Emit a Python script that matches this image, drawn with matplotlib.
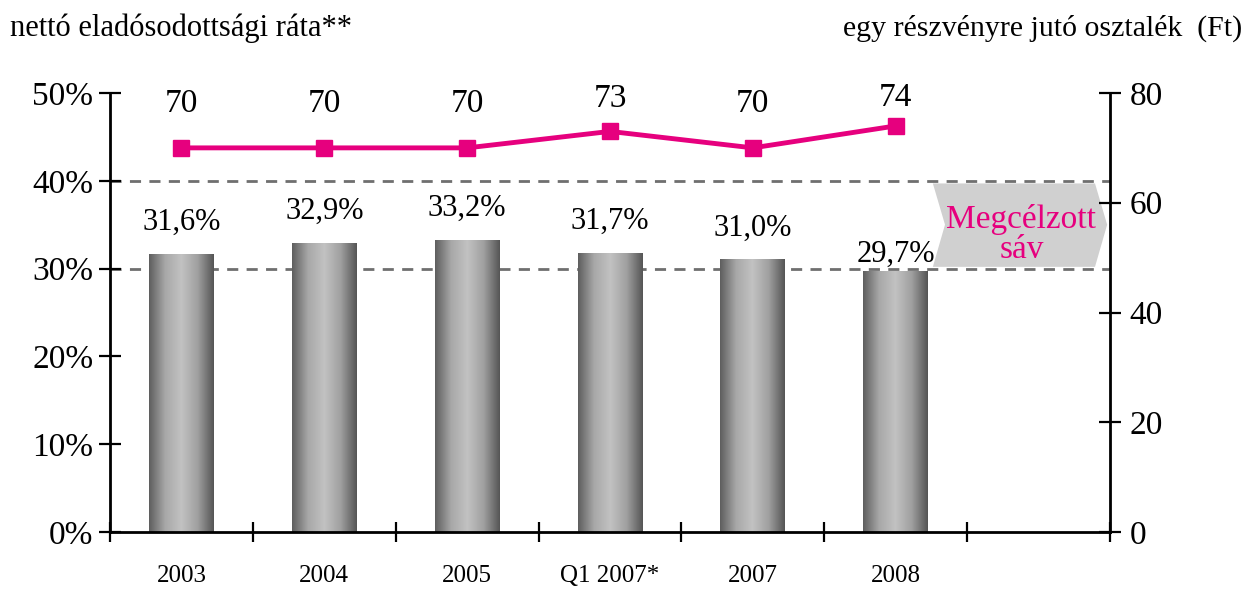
import matplotlib
matplotlib.use("Agg")
import matplotlib.pyplot as plt
import numpy as np
from matplotlib.colors import LinearSegmentedColormap
from matplotlib.patches import Polygon

categories = ["2003", "2004", "2005", "Q1 2007*", "2007", "2008"]
ratio = [31.6, 32.9, 33.2, 31.7, 31.0, 29.7]
ratio_labels = ["31,6%", "32,9%", "33,2%", "31,7%", "31,0%", "29,7%"]
dividend = [70, 70, 70, 73, 70, 74]
left_ticks = [0, 10, 20, 30, 40, 50]
right_ticks = [0, 20, 40, 60, 80]
band = [30, 40]

PINK = "#e6007e"
FONT = "Liberation Serif"
plt.rcParams["font.family"] = FONT

fig = plt.figure(figsize=(12.49, 5.89), dpi=100)
ax = fig.add_axes([110/1249, 1-532/589, 1000/1249, 439/589])
n_slots = len(categories) + 1
ax.set_xlim(-0.5, n_slots - 0.5)
ax.set_ylim(0, 50)

x = np.arange(len(categories))
bars = ax.bar(x, ratio, width=0.455, color="none", edgecolor="none", zorder=2)
cmap = LinearSegmentedColormap.from_list("g", ["#5e5e5e", "#a8a8a8", "#c2c2c2", "#a0a0a0", "#555555"])
grad = np.linspace(0, 1, 256).reshape(1, -1)
for b in bars:
    x0, w, h = b.get_x(), b.get_width(), b.get_height()
    ax.imshow(grad, cmap=cmap, aspect="auto", extent=[x0, x0 + w, 0, h], zorder=2)
ax.set_xlim(-0.5, n_slots - 0.5)
ax.set_ylim(0, 50)

for xi, v, lab in zip(x, ratio, ratio_labels):
    off = 12 if xi == len(categories) - 1 else 23
    ax.annotate(lab, (xi, v), xytext=(0, off), textcoords="offset points",
                ha="center", va="center", fontsize=22, zorder=5)

# target band dashed lines
for b_ in band:
    ax.axhline(b_, color="#6f6f6f", lw=2, ls=(0, (4, 3)), zorder=1)

# arrow / chevron
arr = Polygon([(5.26, 39.7), (6.395, 39.7), (6.48, 35.0), (6.395, 30.2),
               (5.26, 30.2), (5.345, 35.0)], closed=True,
              facecolor="#d0d0d0", edgecolor="none", zorder=1.5)
ax.add_patch(arr)
ax.text(5.88, 33.9, "Megcélzott\nsáv", color=PINK, fontsize=24, ha="center",
        va="center", linespacing=1.0, zorder=5)

# axes styling
ax.spines["top"].set_visible(False)
ax.spines["right"].set_visible(False)
ax.spines["left"].set_linewidth(2)
ax.spines["bottom"].set_linewidth(2)
ax.set_yticks(left_ticks)
ax.set_yticklabels([f"{t}%" for t in left_ticks])
ax.tick_params(axis="y", direction="inout", length=16, width=1.6, labelsize=24, pad=4)
ax.set_xticks(np.arange(n_slots + 1) - 0.5)
ax.set_xticklabels([])
ax.set_xticks(np.arange(len(categories)), minor=True)
ax.set_xticklabels(categories, minor=True)
ax.tick_params(axis="x", which="major", direction="inout", length=14, width=1.6)
ax.tick_params(axis="x", which="minor", length=0, labelsize=18, pad=24)

ax2 = ax.twinx()
ax2.set_ylim(0, 80)
ax2.set_xlim(-0.5, n_slots - 0.5)
for s in ["top", "left", "bottom"]:
    ax2.spines[s].set_visible(False)
ax2.spines["right"].set_linewidth(2)
ax2.set_yticks(right_ticks)
ax2.tick_params(axis="y", direction="inout", length=16, width=1.6, labelsize=24, pad=6)
ax2.plot(x, dividend, color=PINK, lw=3.5, marker="s", markersize=11.5, zorder=4)
for xi, v in zip(x, dividend):
    ax2.text(xi, 78.0 + (v - 70) * 0.3, str(v), ha="center", va="center", fontsize=24, zorder=5)

fig.text(10/1249, 1-28/589, "nettó eladósodottsági ráta**", fontsize=22, ha="left", va="center")
fig.text(1242/1249, 1-28/589, "egy részvényre jutó osztalék  (Ft)", fontsize=21.5, ha="right", va="center")

fig.savefig("out.png", dpi=100)
